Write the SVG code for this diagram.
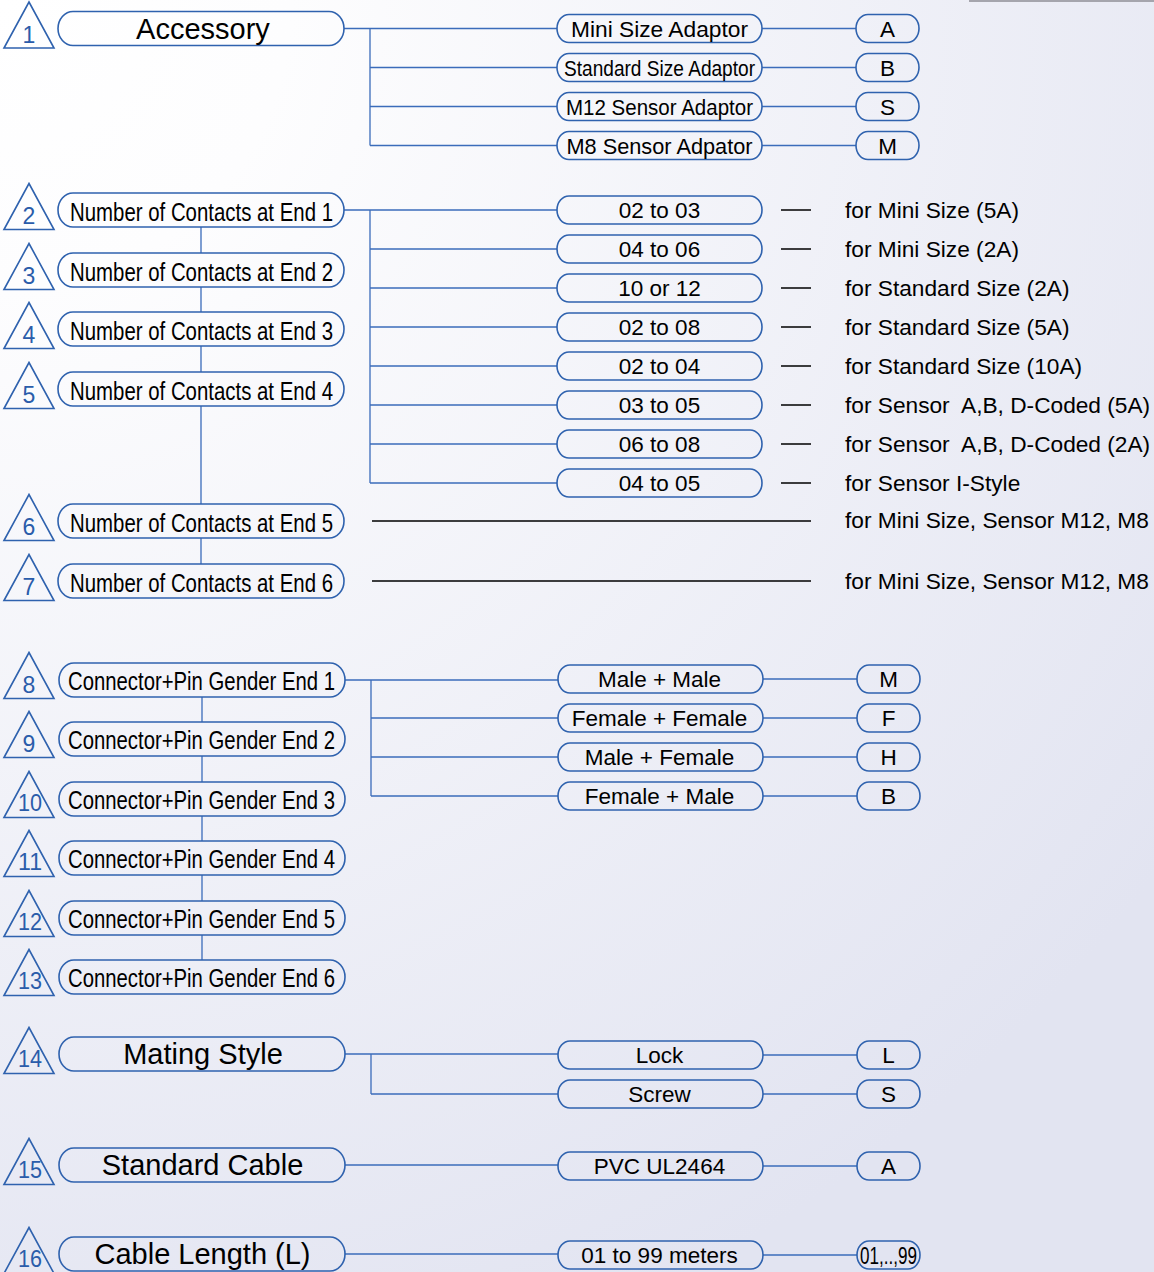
<svg xmlns="http://www.w3.org/2000/svg" width="1154" height="1272" viewBox="0 0 1154 1272">
<defs>
<radialGradient id="bg" gradientUnits="userSpaceOnUse" cx="0" cy="0" r="1450">
<stop offset="0" stop-color="#ffffff"/>
<stop offset="0.2" stop-color="#fdfdfe"/>
<stop offset="1" stop-color="#e2e4f1"/>
</radialGradient>
</defs>
<style>
.pill{fill:none;stroke:#2f62ae;stroke-width:1.6}
.tri{fill:none;stroke:#2f62ae;stroke-width:1.6;stroke-linejoin:miter}
.num{font-family:"Liberation Sans",Arial,sans-serif;font-size:23px;fill:#2a5caa;text-anchor:middle}
.big{font-family:"Liberation Sans",Arial,sans-serif;font-size:29px;fill:#000;text-anchor:middle}
.cond{font-family:"Liberation Sans",Arial,sans-serif;font-size:25px;fill:#000;text-anchor:middle}
.opt{font-family:"Liberation Sans",Arial,sans-serif;font-size:22.5px;fill:#000;text-anchor:middle}
.note{font-family:"Liberation Sans",Arial,sans-serif;font-size:22.7px;fill:#000}
.conn{fill:none;stroke:#3b6cba;stroke-width:1.3}
.blk{fill:none;stroke:#000;stroke-width:1.3}
</style>
<rect width="1154" height="1272" fill="url(#bg)"/>
<path d="M969,1 H1154" stroke="#a5a5ad" stroke-width="2"/>

<g id="connectors">
<path class="conn" d="M344,28.5 H557 M370,28.5 V145.5 M370,67.5 H557 M370,106.5 H557 M370,145.5 H557 M762,28.5 H856 M762,67.5 H856 M762,106.5 H856 M762,145.5 H856"/>
<path class="conn" d="M344,210 H557 M370,210 V483 M370,249 H557 M370,288 H557 M370,327 H557 M370,366 H557 M370,405 H557 M370,444 H557 M370,483 H557"/>
<path class="conn" d="M201,227 V253 M201,287 V312 M201,346 V372 M201,406 V504 M201,538 V564"/>
<path class="blk" d="M781,210 H811 M781,249 H811 M781,288 H811 M781,327 H811 M781,366 H811 M781,405 H811 M781,444 H811 M781,483 H811 M372,521 H811 M372,581 H811"/>
<path class="conn" d="M345,680 H558 M371,680 V796 M371,718 H558 M371,757 H558 M371,796 H558 M763,679 H857 M763,718 H857 M763,757 H857 M763,796 H857"/>
<path class="conn" d="M202,697 V722 M202,756 V782 M202,816 V841 M202,875 V901 M202,935 V960"/>
<path class="conn" d="M345,1054 H558 M371,1054 V1094 M371,1094 H558 M763,1055 H857 M763,1094 H857 M345,1165 H558 M763,1166 H857 M345,1254 H558 M763,1255 H857"/>
</g>

<!-- Left nodes -->
<g id="n1"><polygon class="tri" points="4,48 29,2 54,48"/><text class="num" x="29" y="42.5">1</text><rect class="pill" x="58" y="11.5" width="286" height="34" rx="15" ry="17"/><text class="big" x="203" y="38.5">Accessory</text></g>
<g id="n2"><polygon class="tri" points="4,229.5 29,183.5 54,229.5"/><text class="num" x="29" y="224">2</text><rect class="pill" x="58" y="193" width="286" height="34" rx="15" ry="17"/><text class="cond" x="201.5" y="220.5" textLength="263" lengthAdjust="spacingAndGlyphs">Number of Contacts at End 1</text></g>
<g id="n3"><polygon class="tri" points="4,289.5 29,243.5 54,289.5"/><text class="num" x="29" y="284">3</text><rect class="pill" x="58" y="253" width="286" height="34" rx="15" ry="17"/><text class="cond" x="201.5" y="280.5" textLength="263" lengthAdjust="spacingAndGlyphs">Number of Contacts at End 2</text></g>
<g id="n4"><polygon class="tri" points="4,348.5 29,302.5 54,348.5"/><text class="num" x="29" y="343">4</text><rect class="pill" x="58" y="312" width="286" height="34" rx="15" ry="17"/><text class="cond" x="201.5" y="339.5" textLength="263" lengthAdjust="spacingAndGlyphs">Number of Contacts at End 3</text></g>
<g id="n5"><polygon class="tri" points="4,408.5 29,362.5 54,408.5"/><text class="num" x="29" y="403">5</text><rect class="pill" x="58" y="372" width="286" height="34" rx="15" ry="17"/><text class="cond" x="201.5" y="399.5" textLength="263" lengthAdjust="spacingAndGlyphs">Number of Contacts at End 4</text></g>
<g id="n6"><polygon class="tri" points="4,540.5 29,494.5 54,540.5"/><text class="num" x="29" y="535">6</text><rect class="pill" x="58" y="504" width="286" height="34" rx="15" ry="17"/><text class="cond" x="201.5" y="531.5" textLength="263" lengthAdjust="spacingAndGlyphs">Number of Contacts at End 5</text></g>
<g id="n7"><polygon class="tri" points="4,600.5 29,554.5 54,600.5"/><text class="num" x="29" y="595">7</text><rect class="pill" x="58" y="564" width="286" height="34" rx="15" ry="17"/><text class="cond" x="201.5" y="591.5" textLength="263" lengthAdjust="spacingAndGlyphs">Number of Contacts at End 6</text></g>

<g id="n8"><polygon class="tri" points="4,698.5 29,652.5 54,698.5"/><text class="num" x="29" y="693">8</text><rect class="pill" x="59" y="663" width="286" height="34" rx="15" ry="17"/><text class="cond" x="201.5" y="690" textLength="267" lengthAdjust="spacingAndGlyphs">Connector+Pin Gender End 1</text></g>
<g id="n9"><polygon class="tri" points="4,757.5 29,711.5 54,757.5"/><text class="num" x="29" y="752">9</text><rect class="pill" x="59" y="722" width="286" height="34" rx="15" ry="17"/><text class="cond" x="201.5" y="749" textLength="267" lengthAdjust="spacingAndGlyphs">Connector+Pin Gender End 2</text></g>
<g id="n10"><polygon class="tri" points="4,817.5 29,771.5 54,817.5"/><text class="num" x="30" y="811" textLength="24" lengthAdjust="spacingAndGlyphs">10</text><rect class="pill" x="59" y="782" width="286" height="34" rx="15" ry="17"/><text class="cond" x="201.5" y="809" textLength="267" lengthAdjust="spacingAndGlyphs">Connector+Pin Gender End 3</text></g>
<g id="n11"><polygon class="tri" points="4,876.5 29,830.5 54,876.5"/><text class="num" x="30" y="870" textLength="24" lengthAdjust="spacingAndGlyphs">11</text><rect class="pill" x="59" y="841" width="286" height="34" rx="15" ry="17"/><text class="cond" x="201.5" y="868" textLength="267" lengthAdjust="spacingAndGlyphs">Connector+Pin Gender End 4</text></g>
<g id="n12"><polygon class="tri" points="4,936.5 29,890.5 54,936.5"/><text class="num" x="30" y="930" textLength="24" lengthAdjust="spacingAndGlyphs">12</text><rect class="pill" x="59" y="901" width="286" height="34" rx="15" ry="17"/><text class="cond" x="201.5" y="928" textLength="267" lengthAdjust="spacingAndGlyphs">Connector+Pin Gender End 5</text></g>
<g id="n13"><polygon class="tri" points="4,995.5 29,949.5 54,995.5"/><text class="num" x="30" y="989" textLength="24" lengthAdjust="spacingAndGlyphs">13</text><rect class="pill" x="59" y="960" width="286" height="34" rx="15" ry="17"/><text class="cond" x="201.5" y="987" textLength="267" lengthAdjust="spacingAndGlyphs">Connector+Pin Gender End 6</text></g>

<g id="n14"><polygon class="tri" points="4,1073.5 29,1027.5 54,1073.5"/><text class="num" x="30" y="1067" textLength="24" lengthAdjust="spacingAndGlyphs">14</text><rect class="pill" x="59" y="1037" width="286" height="34" rx="15" ry="17"/><text class="big" x="203" y="1064">Mating Style</text></g>
<g id="n15"><polygon class="tri" points="4,1184.5 29,1138.5 54,1184.5"/><text class="num" x="30" y="1178" textLength="24" lengthAdjust="spacingAndGlyphs">15</text><rect class="pill" x="59" y="1148" width="286" height="34" rx="15" ry="17"/><text class="big" x="202.5" y="1175">Standard Cable</text></g>
<g id="n16"><polygon class="tri" points="4,1273.5 29,1227.5 54,1273.5"/><text class="num" x="30" y="1267" textLength="24" lengthAdjust="spacingAndGlyphs">16</text><rect class="pill" x="59" y="1237" width="286" height="34" rx="15" ry="17"/><text class="big" x="202.5" y="1264">Cable Length (L)</text></g>

<!-- Section 1 options -->
<g id="o1a"><rect class="pill" x="557" y="14.5" width="205" height="28" rx="12" ry="14"/><text class="opt" x="659.5" y="36.5" textLength="177" lengthAdjust="spacingAndGlyphs">Mini Size Adaptor</text></g>
<g id="o1b"><rect class="pill" x="557" y="53.5" width="205" height="28" rx="12" ry="14"/><text class="opt" x="659.5" y="75.5" textLength="191" lengthAdjust="spacingAndGlyphs">Standard Size Adaptor</text></g>
<g id="o1c"><rect class="pill" x="557" y="92.5" width="205" height="28" rx="12" ry="14"/><text class="opt" x="659.5" y="114.5" textLength="187" lengthAdjust="spacingAndGlyphs">M12 Sensor Adaptor</text></g>
<g id="o1d"><rect class="pill" x="557" y="131.5" width="205" height="28" rx="12" ry="14"/><text class="opt" x="659.5" y="153.5" textLength="186" lengthAdjust="spacingAndGlyphs">M8 Sensor Adpator</text></g>
<g id="c1a"><rect class="pill" x="856" y="14.5" width="63" height="28" rx="12" ry="14"/><text class="opt" x="887.5" y="36.5">A</text></g>
<g id="c1b"><rect class="pill" x="856" y="53.5" width="63" height="28" rx="12" ry="14"/><text class="opt" x="887.5" y="75.5">B</text></g>
<g id="c1c"><rect class="pill" x="856" y="92.5" width="63" height="28" rx="12" ry="14"/><text class="opt" x="887.5" y="114.5">S</text></g>
<g id="c1d"><rect class="pill" x="856" y="131.5" width="63" height="28" rx="12" ry="14"/><text class="opt" x="887.5" y="153.5">M</text></g>

<!-- Section 2 options -->
<g id="o2a"><rect class="pill" x="557" y="196" width="205" height="28" rx="12" ry="14"/><text class="opt" x="659.5" y="218">02 to 03</text></g>
<g id="o2b"><rect class="pill" x="557" y="235" width="205" height="28" rx="12" ry="14"/><text class="opt" x="659.5" y="257">04 to 06</text></g>
<g id="o2c"><rect class="pill" x="557" y="274" width="205" height="28" rx="12" ry="14"/><text class="opt" x="659.5" y="296">10 or 12</text></g>
<g id="o2d"><rect class="pill" x="557" y="313" width="205" height="28" rx="12" ry="14"/><text class="opt" x="659.5" y="335">02 to 08</text></g>
<g id="o2e"><rect class="pill" x="557" y="352" width="205" height="28" rx="12" ry="14"/><text class="opt" x="659.5" y="374">02 to 04</text></g>
<g id="o2f"><rect class="pill" x="557" y="391" width="205" height="28" rx="12" ry="14"/><text class="opt" x="659.5" y="413">03 to 05</text></g>
<g id="o2g"><rect class="pill" x="557" y="430" width="205" height="28" rx="12" ry="14"/><text class="opt" x="659.5" y="452">06 to 08</text></g>
<g id="o2h"><rect class="pill" x="557" y="469" width="205" height="28" rx="12" ry="14"/><text class="opt" x="659.5" y="491">04 to 05</text></g>
<g id="notes">
<text class="note" x="845" y="218">for Mini Size (5A)</text>
<text class="note" x="845" y="257">for Mini Size (2A)</text>
<text class="note" x="845" y="296">for Standard Size (2A)</text>
<text class="note" x="845" y="335">for Standard Size (5A)</text>
<text class="note" x="845" y="374">for Standard Size (10A)</text>
<text class="note" x="845" y="413" xml:space="preserve">for Sensor  A,B, D-Coded (5A)</text>
<text class="note" x="845" y="452" xml:space="preserve">for Sensor  A,B, D-Coded (2A)</text>
<text class="note" x="845" y="491">for Sensor I-Style</text>
<text class="note" x="845" y="528">for Mini Size, Sensor M12, M8</text>
<text class="note" x="845" y="589">for Mini Size, Sensor M12, M8</text>
</g>

<!-- Section 3 options -->
<g id="o3a"><rect class="pill" x="558" y="665" width="205" height="28" rx="12" ry="14"/><text class="opt" x="659.5" y="687">Male + Male</text></g>
<g id="o3b"><rect class="pill" x="558" y="704" width="205" height="28" rx="12" ry="14"/><text class="opt" x="659.5" y="726">Female + Female</text></g>
<g id="o3c"><rect class="pill" x="558" y="743" width="205" height="28" rx="12" ry="14"/><text class="opt" x="659.5" y="765">Male + Female</text></g>
<g id="o3d"><rect class="pill" x="558" y="782" width="205" height="28" rx="12" ry="14"/><text class="opt" x="659.5" y="804">Female + Male</text></g>
<g id="c3a"><rect class="pill" x="857" y="665" width="63" height="28" rx="12" ry="14"/><text class="opt" x="888.5" y="687">M</text></g>
<g id="c3b"><rect class="pill" x="857" y="704" width="63" height="28" rx="12" ry="14"/><text class="opt" x="888.5" y="726">F</text></g>
<g id="c3c"><rect class="pill" x="857" y="743" width="63" height="28" rx="12" ry="14"/><text class="opt" x="888.5" y="765">H</text></g>
<g id="c3d"><rect class="pill" x="857" y="782" width="63" height="28" rx="12" ry="14"/><text class="opt" x="888.5" y="804">B</text></g>

<!-- Section 4 options -->
<g id="o4a"><rect class="pill" x="558" y="1041" width="205" height="28" rx="12" ry="14"/><text class="opt" x="659.5" y="1063">Lock</text></g>
<g id="o4b"><rect class="pill" x="558" y="1080" width="205" height="28" rx="12" ry="14"/><text class="opt" x="659.5" y="1102">Screw</text></g>
<g id="c4a"><rect class="pill" x="857" y="1041" width="63" height="28" rx="12" ry="14"/><text class="opt" x="888.5" y="1063">L</text></g>
<g id="c4b"><rect class="pill" x="857" y="1080" width="63" height="28" rx="12" ry="14"/><text class="opt" x="888.5" y="1102">S</text></g>
<g id="o5"><rect class="pill" x="558" y="1152" width="205" height="28" rx="12" ry="14"/><text class="opt" x="659.5" y="1174">PVC UL2464</text></g>
<g id="c5"><rect class="pill" x="857" y="1152" width="63" height="28" rx="12" ry="14"/><text class="opt" x="888.5" y="1174">A</text></g>
<g id="o6"><rect class="pill" x="558" y="1241" width="205" height="28" rx="12" ry="14"/><text class="opt" x="659.5" y="1263">01 to 99 meters</text></g>
<g id="c6"><rect class="pill" x="857" y="1241" width="63" height="28" rx="12" ry="14"/><text class="opt" x="888.5" y="1264" style="font-size:24px" textLength="57" lengthAdjust="spacingAndGlyphs">01,..,99</text></g>
</svg>
